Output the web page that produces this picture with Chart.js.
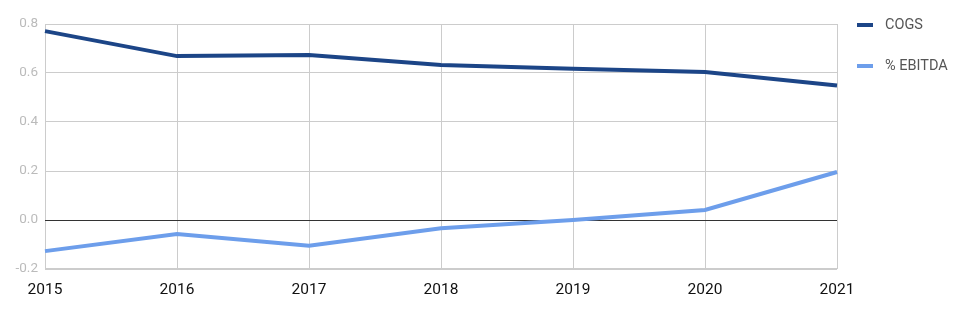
<!DOCTYPE html>
<html><head><meta charset="utf-8">
<script src="https://cdn.jsdelivr.net/npm/chart.js@4/dist/chart.umd.min.js"></script>
<style>
html,body{margin:0;padding:0;background:#fff;}
#wrap{position:relative;width:964px;height:314px;}
canvas{position:absolute;left:0;top:0;}
.lg{position:absolute;font-family:Roboto,sans-serif;font-size:14.5px;color:#555;left:885px;line-height:16px;}
.sw{position:absolute;left:857px;width:16px;height:4px;}
</style></head><body>
<div id="wrap">
<canvas id="c" width="964" height="314"></canvas>
<div class="sw" style="top:23px;background:#1c4587"></div><div class="lg" style="top:17px">COGS</div>
<div class="sw" style="top:64px;background:#6d9eeb"></div><div class="lg" style="top:58px">% EBITDA</div>
</div>
<script>
const categories = ['2015','2016','2017','2018','2019','2020','2021'];
const cogs = [0.771, 0.669, 0.673, 0.633, 0.617, 0.604, 0.549];
const ebitda = [-0.127, -0.057, -0.105, -0.034, 0.0, 0.041, 0.196];
const seriesNames = ['COGS', '% EBITDA'];
const yTicks = [-0.2, 0.0, 0.2, 0.4, 0.6, 0.8];

new Chart(document.getElementById('c'), {
  type: 'line',
  data: {
    labels: categories,
    datasets: [
      {label: seriesNames[0], data: cogs, borderColor: '#1c4587', borderWidth: 4, pointRadius: 0, tension: 0, fill: false},
      {label: seriesNames[1], data: ebitda, borderColor: '#6d9eeb', borderWidth: 4, pointRadius: 0, tension: 0, fill: false}
    ]
  },
  options: {
    responsive: false,
    animation: false,
    layout: {padding: {top: 24, right: 127, left: 0, bottom: 0}},
    plugins: {legend: {display: false}, tooltip: {enabled: false}},
    scales: {
      x: {
        grid: {color: '#cccccc', lineWidth: 1, drawTicks: false},
        border: {display: false},
        ticks: {color: '#111', font: {family: 'Roboto', size: 15.5}, padding: 12, maxRotation: 0},
        afterFit: s => { s.height = 45; }
      },
      y: {
        min: -0.2, max: 0.8,
        afterBuildTicks: s => { s.ticks = yTicks.map(v => ({value: v})); },
        grid: {
          color: c => (c.tick && Math.abs(c.tick.value) < 1e-9) ? '#333333' : '#cccccc',
          lineWidth: c => (c.tick && Math.abs(c.tick.value + 0.2) < 1e-9) ? 2 : 1,
          drawTicks: false
        },
        border: {display: false},
        ticks: {color: '#bbbbbb', font: {family: 'Roboto', size: 13.5}, padding: 7,
          callback: v => v.toFixed(1)},
        afterFit: s => { s.width = 45; }
      }
    }
  }
});
</script>
</body></html>
